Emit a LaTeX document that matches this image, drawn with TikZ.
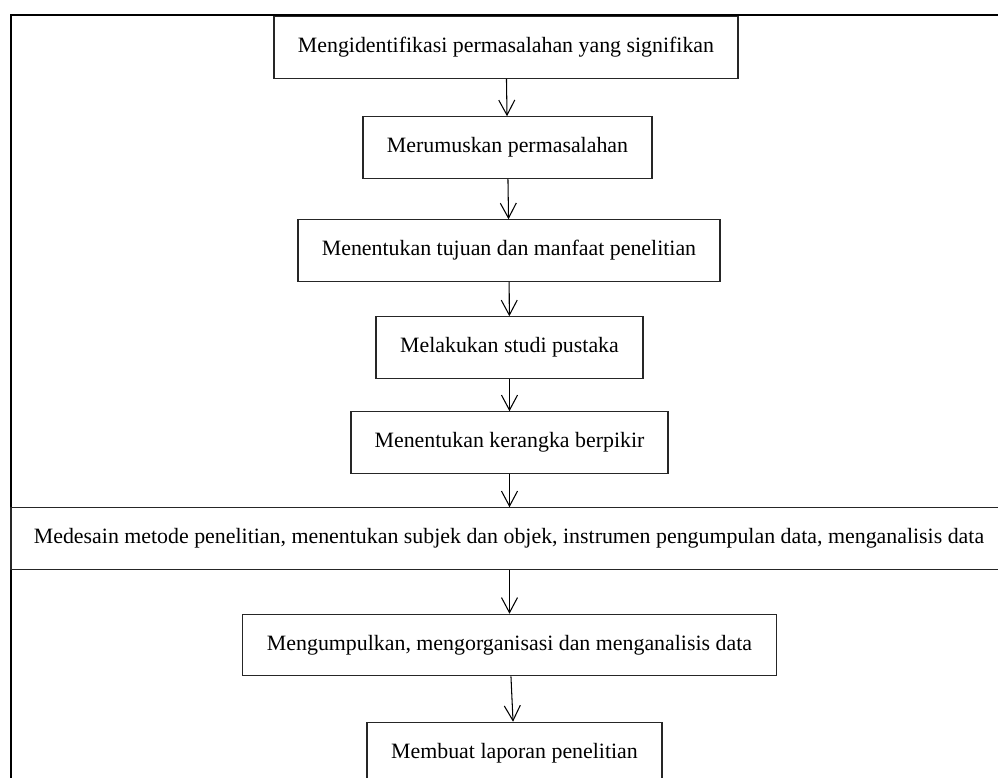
\documentclass[tikz,border=0pt]{standalone}
\usepackage{fontspec}
\setmainfont{Liberation Serif}
\usetikzlibrary{arrows.meta}

\begin{document}
\begin{tikzpicture}[stepbox/.style={rectangle, draw=black!85, line width=0.6pt,
  minimum height=1.23cm, inner sep=0pt, font=\fontsize{12.45}{14}\selectfont},
  >={Straight Barb[length=3mm, width=3.2mm]}, line width=0.6pt]
  \useasboundingbox (0,0) rectangle (19.96,-15.56);
  \clip (0,0) rectangle (19.96,-15.56);
  % outer frame, cut off at right and bottom
  \draw[line width=1pt] (0.22,-16) -- (0.22,-0.30) -- (21,-0.30);
  \node[stepbox, minimum width=9.28cm] (b1) at (10.12, -0.95)
    {Mengidentifikasi permasalahan yang signifikan};
  \node[stepbox, minimum width=5.78cm] (b2) at (10.15, -2.95)
    {Merumuskan permasalahan};
  \node[stepbox, minimum width=8.44cm] (b3) at (10.18, -5.01)
    {Menentukan tujuan dan manfaat penelitian};
  \node[stepbox, minimum width=5.34cm] (b4) at (10.19, -6.95)
    {Melakukan studi pustaka};
  \node[stepbox, minimum width=6.34cm] (b5) at (10.19, -8.85)
    {Menentukan kerangka berpikir};
  \node[stepbox, minimum width=19.92cm] (b6) at (10.18, -10.77)
    {Medesain metode penelitian, menentukan subjek dan objek, instrumen pengumpulan data, menganalisis data};
  \node[stepbox, minimum width=10.68cm] (b7) at (10.19, -12.90)
    {Mengumpulkan, mengorganisasi dan menganalisis data};
  \node[stepbox, minimum width=5.90cm] (b8) at (10.29, -15.06)
    {Membuat laporan penelitian};
  % arrows between the steps
  \draw[->] (b1) -- (b2);
  \draw[->] (b2) -- (b3);
  \draw[->] (b3) -- (b4);
  \draw[->] (b4) -- (b5);
  \draw[->] (b5.south) -- (b5.south |- b6.north);
  \draw[->] (b7.north |- b6.south) -- (b7.north);
  \draw[->] (b7) -- (b8);
\end{tikzpicture}
\end{document}
